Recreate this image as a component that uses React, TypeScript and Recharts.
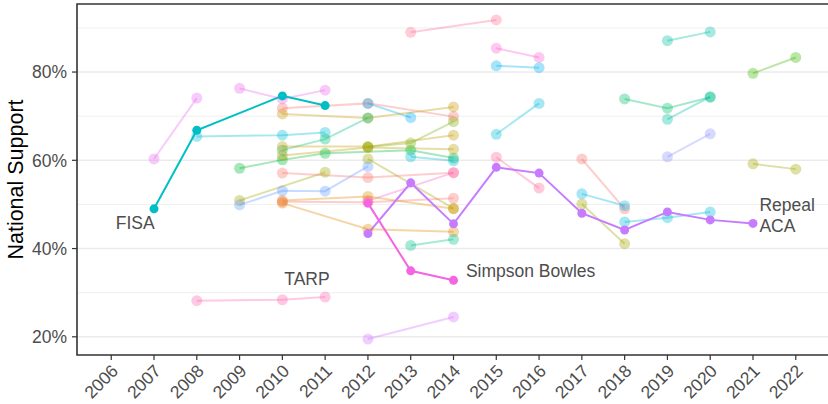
import {
  CartesianGrid,
  Line,
  LineChart,
  ReferenceArea,
  ReferenceDot,
  XAxis,
  YAxis,
} from "recharts";

if (typeof document !== "undefined") document.body.style.margin = "0";

const FONT = '"Liberation Sans", Arial, Helvetica, sans-serif';
const TEXT_COLOR = "#4D4D4D";
const BORDER = "#333333";
const GRID = "#EBEBEB";

const X_TICKS = [2006, 2007, 2008, 2009, 2010, 2011, 2012, 2013, 2014, 2015, 2016, 2017, 2018, 2019, 2020, 2021, 2022];
const DATA_YEARS = X_TICKS.slice(1);
const Y_TICKS = [20, 40, 60, 80];
const Y_MINOR = [30, 50, 70, 90];

type Series = { key: string; color: string; years: number[]; values: number[] };

// background issues, drawn faint
const FAINT: Series[] = [
  { key: "f1", color: "#E76BF3", years: [2007, 2008], values: [60.3, 74.1] },
  { key: "f2", color: "#EF67EB", years: [2009, 2010, 2011], values: [76.3, 73.9, 75.9] },
  { key: "f3", color: "#00BCD8", years: [2008, 2010, 2011], values: [65.4, 65.7, 66.3] },
  { key: "f4", color: "#00BA38", years: [2009, 2010, 2011, 2013, 2014], values: [58.2, 60.1, 61.6, 62.3, 60.5] },
  { key: "f5", color: "#F8766D", years: [2010, 2012, 2014], values: [71.8, 72.9, 69.9] },
  { key: "f6", color: "#00B0F6", years: [2012, 2013], values: [72.9, 69.7] },
  { key: "f7", color: "#C99800", years: [2010, 2012, 2014], values: [70.5, 69.6, 72.1] },
  { key: "f8", color: "#00BF7D", years: [2010, 2011, 2012], values: [62.3, 64.8, 69.6] },
  { key: "f9", color: "#C49A00", years: [2010, 2012, 2014], values: [63.1, 63.1, 65.7] },
  { key: "f10", color: "#BB9D00", years: [2010, 2012, 2014], values: [61.1, 62.9, 62.5] },
  { key: "f11", color: "#7CAE00", years: [2012, 2013, 2014], values: [63.0, 63.9, 68.75] },
  { key: "f13", color: "#00BCD8", years: [2013, 2014], values: [60.8, 59.9] },
  { key: "f14", color: "#A3A500", years: [2009, 2011], values: [50.9, 57.3] },
  { key: "f15", color: "#A3A500", years: [2012, 2014], values: [60.3, 49.1] },
  { key: "f16", color: "#619CFF", years: [2009, 2010, 2011, 2012], values: [49.9, 53.1, 53.0, 58.6] },
  { key: "f17", color: "#F8766D", years: [2010, 2012, 2014], values: [57.1, 56.1, 57.2] },
  { key: "f18", color: "#FF61C3", years: [2012, 2014], values: [50.8, 57.2] },
  { key: "f19", color: "#E58700", years: [2010, 2012, 2014], values: [50.3, 44.4, 43.8] },
  { key: "f20", color: "#DE8C00", years: [2010, 2012, 2014], values: [50.9, 51.8, 49.0] },
  { key: "f21", color: "#F8766D", years: [2010, 2012, 2014], values: [50.6, 50.5, 51.4] },
  { key: "f22", color: "#00C08B", years: [2013, 2014], values: [40.7, 42.1] },
  { key: "f23", color: "#FF64B0", years: [2008, 2010, 2011], values: [28.2, 28.4, 29.0] },
  { key: "f24", color: "#D575FE", years: [2012, 2014], values: [19.5, 24.5] },
  { key: "f25", color: "#FF6C91", years: [2013, 2015], values: [89.0, 91.8] },
  { key: "f26", color: "#FD61D1", years: [2015, 2016], values: [85.4, 83.3] },
  { key: "f27", color: "#00B4EF", years: [2015, 2016], values: [81.4, 81.0] },
  { key: "f28", color: "#00BCD8", years: [2015, 2016], values: [65.9, 72.9] },
  { key: "f29", color: "#FF6A98", years: [2015, 2016], values: [60.7, 53.7] },
  { key: "f30", color: "#F8766D", years: [2017, 2018], values: [60.3, 49.0] },
  { key: "f31", color: "#00B8E7", years: [2017, 2018], values: [52.4, 49.7] },
  { key: "f32", color: "#00BCD8", years: [2018, 2019, 2020], values: [46.0, 47.0, 48.3] },
  { key: "f33", color: "#A3A500", years: [2017, 2018], values: [50.1, 41.1] },
  { key: "f34", color: "#00C1A3", years: [2019, 2020], values: [87.1, 89.1] },
  { key: "f35", color: "#00BE6C", years: [2018, 2019, 2020], values: [73.9, 71.8, 74.3] },
  { key: "f36", color: "#00C1A3", years: [2019, 2020], values: [69.3, 74.4] },
  { key: "f37", color: "#8F91FF", years: [2019, 2020], values: [60.8, 66.0] },
  { key: "f38", color: "#39B600", years: [2021, 2022], values: [79.7, 83.3] },
  { key: "f39", color: "#A3A500", years: [2021, 2022], values: [59.2, 58.0] },
];

// highlighted issues
const fisa: Series = { key: "fisa", color: "#00BFC4", years: [2007, 2008, 2010, 2011], values: [49.0, 66.8, 74.6, 72.4] };
const repealAca: Series = {
  key: "aca",
  color: "#C77CFF",
  years: [2012, 2013, 2014, 2015, 2016, 2017, 2018, 2019, 2020, 2021],
  values: [43.4, 54.9, 45.6, 58.4, 57.1, 48.0, 44.2, 48.3, 46.5, 45.7],
};
const simpsonBowles: Series = { key: "simpson", color: "#F564E3", years: [2012, 2013, 2014], values: [50.3, 34.95, 32.8] };
const HIGHLIGHT = [fisa, repealAca, simpsonBowles];

const table = DATA_YEARS.map((year) => {
  const row: Record<string, number> = { year };
  [...FAINT, ...HIGHLIGHT].forEach((s) => {
    const i = s.years.indexOf(year);
    if (i >= 0) row[s.key] = s.values[i];
  });
  return row;
});

const X_DOMAIN: [number, number] = [2005.2, 2022.8];
const Y_DOMAIN: [number, number] = [15.88, 95.42];

function YearTick({ x, y, payload }: any) {
  return (
    <text
      transform={`translate(${x + 8},${y + 12}) rotate(-45)`}
      textAnchor="end"
      fontSize={17.5}
      fill={TEXT_COLOR}
      fontFamily={FONT}
    >
      {payload.value}
    </text>
  );
}

function note(lines: string[], anchor: "start" | "middle") {
  return {
    value: lines.join(" "),
    content: (p: any) => {
      const vb = p.viewBox || {};
      const cx = vb.x + (vb.width || 0) / 2;
      const cy = vb.y + (vb.height || 0) / 2;
      const lh = 21;
      const top = cy - ((lines.length - 1) * lh) / 2;
      return (
        <text textAnchor={anchor} dominantBaseline="central" fontSize={17.5} fill={TEXT_COLOR} fontFamily={FONT}>
          {lines.map((l, i) => (
            <tspan key={i} x={cx} y={top + i * lh}>
              {l}
            </tspan>
          ))}
        </text>
      );
    },
  };
}

export default function App() {
  return (
    <div style={{ width: 828, height: 404, overflow: "hidden", background: "#fff" }}>
      <LineChart width={830} height={404} data={table} margin={{ top: 4, right: 0, bottom: 0, left: 0 }}>
        <CartesianGrid horizontalValues={Y_MINOR} vertical={false} stroke={GRID} strokeWidth={0.8} />
        <CartesianGrid horizontalValues={Y_TICKS} vertical={false} stroke={GRID} strokeWidth={1.6} />
        <XAxis
          type="number"
          dataKey="year"
          domain={X_DOMAIN}
          ticks={X_TICKS}
          allowDataOverflow
          height={49}
          axisLine={false}
          tickSize={5}
          tickMargin={0}
          tickLine={{ stroke: BORDER, strokeWidth: 1.2 }}
          tick={<YearTick />}
          interval={0}
        />
        <YAxis
          type="number"
          domain={Y_DOMAIN}
          ticks={Y_TICKS}
          allowDataOverflow
          width={77}
          axisLine={false}
          tickSize={5}
          tickMargin={5}
          tickLine={{ stroke: BORDER, strokeWidth: 1.2 }}
          tick={{ fontSize: 17.5, fill: TEXT_COLOR, fontFamily: FONT }}
          tickFormatter={(v: number) => `${v}%`}
          interval={0}
          label={{
            value: "National Support",
            content: () => (
              <text
                transform="translate(22.5,179.5) rotate(-90)"
                textAnchor="middle"
                fontSize={21.5}
                fill="#000"
                fontFamily={FONT}
              >
                National Support
              </text>
            ),
          }}
        />
        {FAINT.map((s) => (
          <Line
            key={s.key}
            dataKey={s.key}
            type="linear"
            stroke={s.color}
            strokeOpacity={0.35}
            strokeWidth={2}
            connectNulls
            isAnimationActive={false}
            dot={{ r: 5.5, fill: s.color, fillOpacity: 0.35, stroke: "none" }}
            activeDot={false}
          />
        ))}
        {HIGHLIGHT.map((s) => (
          <Line
            key={s.key}
            dataKey={s.key}
            type="linear"
            stroke={s.color}
            strokeWidth={2}
            connectNulls
            isAnimationActive={false}
            dot={{ r: 4.5, fill: s.color, stroke: "none" }}
            activeDot={false}
          />
        ))}
        <ReferenceDot x={2006.56} y={45.79} r={0} fill="none" stroke="none" label={note(["FISA"], "middle")} />
        <ReferenceDot x={2010.575} y={33.03} r={0} fill="none" stroke="none" label={note(["TARP"], "middle")} />
        <ReferenceDot x={2014.29} y={34.92} r={0} fill="none" stroke="none" label={note(["Simpson Bowles"], "start")} />
        <ReferenceDot x={2021.15} y={47.49} r={0} fill="none" stroke="none" label={note(["Repeal", "ACA"], "start")} />
        <ReferenceArea
          x1={X_DOMAIN[0]}
          x2={X_DOMAIN[1]}
          y1={Y_DOMAIN[0]}
          y2={Y_DOMAIN[1]}
          fill="none"
          stroke={BORDER}
          strokeWidth={1.6}
          ifOverflow="visible"
        />
      </LineChart>
    </div>
  );
}
